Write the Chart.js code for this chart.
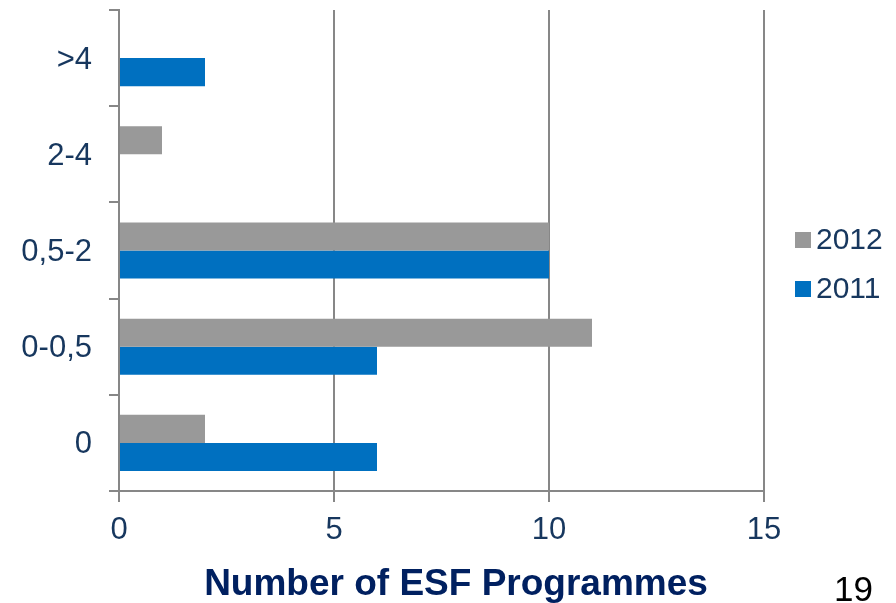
<!DOCTYPE html>
<html>
<head>
<meta charset="utf-8">
<script src="https://cdn.jsdelivr.net/npm/chart.js@4/dist/chart.umd.min.js"></script>
<style>
  html, body { margin: 0; padding: 0; background: #ffffff; }
  #wrap { position: relative; width: 896px; height: 603px; }
</style>
</head>
<body>
<div id="wrap"><canvas id="chart" width="896" height="603"></canvas></div>
<script>
// Number of ESF programmes per band, 2012 vs 2011
const categories = ['>4', '2-4', '0,5-2', '0-0,5', '0'];
const values2012 = [0, 1, 10, 11, 2];
const values2011 = [2, 0, 10, 6, 6];
const seriesNames = ['2012', '2011'];
const xTicks = [0, 5, 10, 15];
const axisTitle = 'Number of ESF Programmes';
const pageNumber = '19';

const NAVY = '#17375E';
const GRID = '#878787';
const FONT = '"Liberation Sans", Arial, sans-serif';

// Legend, axis title and page number drawn on the canvas
const extras = {
  id: 'extras',
  afterDraw(chart) {
    const ctx = chart.ctx;
    ctx.save();
    // legend
    const legendY = [240, 289];
    chart.data.datasets.forEach((ds, i) => {
      ctx.fillStyle = ds.backgroundColor;
      ctx.fillRect(795, legendY[i] - 8, 16, 16);
      ctx.fillStyle = NAVY;
      ctx.font = '30px ' + FONT;
      ctx.textAlign = 'left';
      ctx.textBaseline = 'middle';
      ctx.fillText(ds.label, 816, legendY[i] + 1);
    });
    // axis title
    ctx.fillStyle = '#002060';
    ctx.font = 'bold 37px ' + FONT;
    ctx.textAlign = 'center';
    ctx.textBaseline = 'alphabetic';
    ctx.fillText(axisTitle, 456, 595);
    // page number
    ctx.fillStyle = '#000000';
    ctx.font = '35px ' + FONT;
    ctx.textAlign = 'left';
    ctx.fillText(pageNumber, 834, 601);
    ctx.restore();
  }
};

new Chart(document.getElementById('chart'), {
  type: 'bar',
  data: {
    labels: categories,
    datasets: [
      { label: seriesNames[0], data: values2012, backgroundColor: '#999999' },
      { label: seriesNames[1], data: values2011, backgroundColor: '#0070C0' }
    ]
  },
  options: {
    indexAxis: 'y',
    responsive: false,
    animation: false,
    layout: { padding: { top: 10, right: 132, bottom: 0, left: 0 } },
    datasets: { bar: { categoryPercentage: 0.583, barPercentage: 1, borderWidth: 0 } },
    plugins: { legend: { display: false }, tooltip: { enabled: false } },
    scales: {
      x: {
        min: xTicks[0],
        max: xTicks[xTicks.length - 1],
        afterBuildTicks(scale) { scale.ticks = xTicks.map(v => ({ value: v })); },
        afterFit(scale) { scale.height = 112; scale.paddingLeft = 0; scale.paddingRight = 0; },
        grid: { color: GRID, lineWidth: 2, tickLength: 11, drawOnChartArea: true },
        border: { display: true, color: GRID, width: 2 },
        ticks: { color: NAVY, font: { family: FONT, size: 31 }, padding: 10, maxRotation: 0 }
      },
      y: {
        offset: true,
        afterFit(scale) { scale.width = 119; scale.paddingTop = 0; scale.paddingBottom = 0; },
        grid: { offset: true, drawOnChartArea: false, color: GRID, lineWidth: 2, tickLength: 10 },
        border: { display: true, color: GRID, width: 2 },
        ticks: { color: NAVY, font: { family: FONT, size: 31 }, padding: 17, labelOffset: 2 }
      }
    }
  },
  plugins: [extras]
});
</script>
</body>
</html>
